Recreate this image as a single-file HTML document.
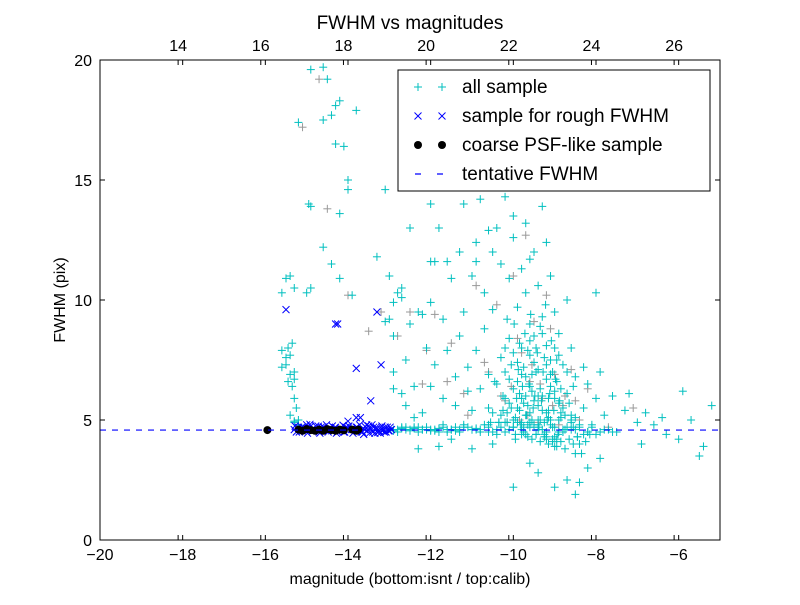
<!DOCTYPE html>
<html><head><meta charset="utf-8"><style>
body{margin:0;background:#fff;font-family:"Liberation Sans",sans-serif;}
svg text{font-family:"Liberation Sans",sans-serif;}
</style></head><body>
<svg id="chart" width="800" height="600" xmlns="http://www.w3.org/2000/svg"></svg>
<script>
const bottomTicks=[-20,-18,-16,-14,-12,-10,-8,-6];
const topTicks=[14,16,18,20,22,24,26];
const yTicks=[0,5,10,15,20];
const tentativeFWHM=4.58;
const topOffset=32.11;
const allX=[-15.6,-15.5,-15.4,-15.3,-15.6,-15.5,-15.4,-15.35,-15.45,-15.5,-15.4,-15.3,-15.45,-15.35,-15.3,-15.6,-15.3,-15.25,-15.2,-15.3,-15.2,-15.4,-15.3,
-14.9,-14.6,-14.5,-15.2,-14.6,-14.4,-14.3,-14.2,-14.3,-14.1,-13.8,-14.0,-14.0,-14.95,-14.9,-14.2,-14.6,-14.4,-14.2,-14.9,-15.0,-13.9,-13.3,-13.0,-13.1,-12.7,
-13.0,-12.9,-12.8,-12.6,-12.5,-12.4,-12.7,-12.3,-12.2,-12.5,-12.9,-12.1,-12.0,-12.2,-12.4,-12.0,-11.9,-12.0,-11.8,-11.7,-11.6,-11.9,-11.5,-11.4,-11.3,-11.2,-11.2,-11.3,-11.1,-11.0,-11.1,-10.9,-10.8,-10.7,-10.7,-10.6,-10.5,-10.5,-10.4,-10.3,-10.3,-10.2,-10.2,-10.1,-10.1,-10.0,-10.0,-9.9,-9.9,-9.9,-9.8,-9.8,-9.8,-9.7,-9.7,-9.7,-9.6,-9.6,-9.6,-9.5,-9.5,-9.5,-9.4,-9.4,-9.4,-9.3,-9.3,-9.3,-9.2,-9.2,-9.2,-9.1,-9.1,-9.1,-9.0,-9.0,-9.0,-8.9,-8.9,-8.8,-8.8,-8.7,-8.7,-8.6,-8.6,-8.5,-8.5,-8.4,-8.3,-8.3,-8.2,-8.1,-8.0,-8.0,-7.9,-7.9,-7.8,-7.6,-7.5,-7.3,-7.2,-7.0,-6.9,-6.8,-6.6,-6.4,-6.3,-6.0,-5.9,-5.7,-5.5,-5.4,-5.2,-10.0,-9.4,-9.0,-8.7,-8.5,-8.4,-8.2,-11.0,-12.3,-9.6,-10.5,-11.5,-11.8,
-10.4,-10.2,-10.0,-9.85,-9.75,-9.65,-9.55,-9.45,-9.35,-9.25,-9.15,-9.05,-8.95,-8.85,-9.7,-9.5,-9.3,-9.1,-9.6,-9.8,-10.1,-9.2,-9.0,-9.4,-8.9,-10.6,-10.8,-11.0,-10.9,-11.4,-11.7,-12.6,-12.9,-12.7,-12.9,-13.1,-12.0,-11.6,-10.9,-10.6,-10.0,-9.6,-9.2,
-12.9,-12.7,-12.5,-12.3,-12.1,-11.9,-11.7,-11.5,-11.3,-11.1,-10.9,-10.7,-10.5,-10.3,-10.1,-9.9,-9.7,-9.5,-9.3,-9.1,-8.9,-8.7,-8.5,-8.3,-8.1,-7.9,-7.7,-12.8,-12.4,-12.0,-11.6,-11.2,-10.8,-10.4,-10.0,-9.6,-9.2,-8.8,-8.4,-8.0,-7.6,-12.6,-12.2,-11.8,-11.4,-11.0,-10.6,-10.2,-9.8,-9.4,-9.0,-8.6,-8.2,-7.8,-9.75,-9.45,-9.15,-8.95,-10.35,-10.15,-9.65,-9.35,-9.05,-8.75,-8.45,-10.55,-10.25,-9.95,-9.55,-9.25,-8.85,-8.55,
-9.95,-9.9,-9.85,-9.8,-9.75,-9.7,-9.65,-9.6,-9.55,-9.5,-9.45,-9.4,-9.35,-9.3,-9.25,-9.2,-9.15,-9.1,-9.05,-9.0,-8.95,-8.9,-8.85,-8.8,-8.75,-8.7,-8.65,-8.6,-8.55,-8.5,
-10.3,-10.25,-10.2,-10.15,-10.1,-10.05,-10.0,-9.98,-9.92,-9.88,-9.82,-9.78,-9.72,-9.68,-9.62,-9.58,-9.52,-9.48,-9.42,-9.38,-9.32,-9.28,-9.22,-9.18,-9.12,-9.08,-9.02,-8.98,-8.92,-8.88,
-10.6,-10.5,-10.45,-10.35,-10.15,-10.05,-9.95,-9.85,-9.75,-9.65,-9.55,-9.45,-9.35,-9.25,-9.15,-9.05,-8.95,-8.85,-8.75,-8.65,-8.55,-8.45,-8.35,-8.25,-8.15,
-11.0,-10.8,-10.6,-10.4,-10.2,-10.0,-9.8,-9.6,-9.4,-9.2,-9.0,-8.8,-8.6,-8.4,-8.2,-12.8,-12.6,-12.4,-12.2,-12.0,-11.8,-11.6,-11.4,-11.2,-10.9,-12.9,-12.7,-12.5,-12.3,-12.1,-11.9,-11.7,-11.5,-11.3];
const allY=[10.3,10.9,11.0,10.5,7.9,7.6,7.7,8.2,8.0,7.3,6.9,7.0,6.6,6.4,6.7,7.2,5.9,5.5,5.0,4.9,4.8,5.2,4.95,
19.6,19.7,19.2,17.4,17.5,17.7,18.1,18.3,16.5,16.4,17.9,15.0,14.6,14.0,13.9,13.6,12.2,11.5,10.9,10.5,10.3,10.2,11.8,11.0,14.6,10.5,
9.2,8.5,10.3,7.5,9.0,6.4,6.1,9.5,9.4,13.0,7.0,8.0,6.4,5.3,5.1,11.6,11.6,14.0,13.0,9.2,7.9,7.3,10.9,6.8,12.0,14.0,9.5,8.5,6.2,11.0,7.2,12.4,14.2,10.3,8.8,6.9,9.6,12.0,13.0,7.6,11.5,14.3,5.9,8.4,10.9,6.3,12.6,7.4,9.7,5.5,11.3,8.0,6.9,13.2,10.3,5.2,7.7,9.0,6.4,12.0,8.5,5.8,10.6,7.1,6.0,13.9,9.3,5.4,8.1,6.7,4.2,11.0,7.5,5.0,9.5,6.2,3.9,8.6,5.7,7.3,4.5,10.0,6.1,8.0,5.2,3.6,6.8,4.0,7.2,5.5,6.5,4.8,5.9,10.3,7.0,3.4,5.2,6.0,4.5,5.4,6.1,4.9,4.0,5.3,4.8,5.1,4.4,4.2,6.2,5.0,3.5,3.9,5.6,2.2,2.8,2.2,2.5,1.9,2.4,3.0,3.8,3.8,3.2,4.0,4.2,3.9,
6.5,7.0,7.8,6.1,7.2,5.6,6.9,8.0,6.3,7.6,5.9,7.0,6.6,5.3,6.0,7.4,8.6,6.4,8.3,5.9,6.7,5.3,8.0,5.0,7.7,5.5,6.3,5.4,7.9,5.6,5.9,5.6,6.3,10.1,9.9,9.1,9.9,11.6,11.6,12.9,13.5,11.7,12.4,
4.6,4.7,4.6,4.5,4.7,4.6,4.8,4.6,4.5,4.7,4.6,4.8,4.5,4.7,4.6,4.9,4.4,4.7,4.6,4.8,4.5,4.7,4.6,4.4,4.7,4.5,4.6,4.5,4.7,4.6,4.5,4.8,4.6,4.4,4.7,4.9,4.3,4.6,4.8,4.4,4.5,4.6,4.6,4.5,4.7,4.6,4.5,4.9,4.4,4.8,4.3,5.0,4.5,4.6,4.7,4.4,5.1,4.2,4.9,5.3,4.8,5.0,4.1,5.2,4.3,4.9,5.4,4.2,5.0,4.4,5.1,4.7,
5.1,6.6,8.2,4.9,5.7,6.8,7.9,5.3,6.2,4.8,7.0,5.6,8.9,6.0,4.9,7.3,5.4,6.9,4.7,5.9,7.5,5.0,6.3,5.5,4.6,7.0,5.7,4.9,6.4,5.1,
5.2,6.0,8.0,4.9,5.7,7.3,5.0,9.0,5.9,7.1,4.8,6.4,8.6,5.2,6.5,9.4,5.5,6.0,7.8,4.7,5.8,7.0,9.8,5.0,6.1,8.3,5.4,6.7,4.4,5.8,
4.8,5.3,6.6,4.9,9.2,5.5,4.4,5.4,4.5,4.3,4.2,4.4,4.1,4.3,4.0,4.2,3.9,4.1,3.8,4.2,4.0,4.3,3.6,4.1,4.4,
4.6,4.5,4.7,4.6,4.5,4.7,4.6,4.7,4.6,4.5,4.7,4.5,4.6,4.7,4.5,4.6,4.7,4.65,4.6,4.55,4.65,4.6,4.55,4.7,4.65,4.55,4.65,4.55,4.7,4.6,4.55,4.7,4.6,4.6];
const grayX=[-15.1,-14.7,-14.5,-14.0,-13.5,-13.2,-12.8,-12.5,-12.2,-11.9,-11.5,-11.2,-10.9,-10.6,-10.4,-10.2,-10.0,-9.8,-9.6,-9.5,-9.3,-9.1,-9.0,-8.8,-8.6,-8.4,-8.2,-9.7,-9.4,-9.9,-10.3,-10.7,-11.1,-11.6,-12.1,-9.2,-8.9,-8.5,-9.55,-10.05,-7.7,-7.1,-9.65,-9.35,-9.05,-9.85,-10.15,-8.75];
const grayY=[17.2,19.2,13.8,10.2,8.7,9.5,8.5,9.5,6.5,9.4,8.2,6.1,10.6,7.0,9.8,5.8,11.0,7.8,6.6,9.1,5.9,8.8,6.9,5.6,7.1,5.0,6.3,12.7,4.9,8.4,6.0,7.4,5.2,6.6,7.9,10.2,4.8,5.8,7.3,6.4,4.7,5.5,5.2,6.5,5.6,5.0,4.9,6.0];
const roughX=[-15.5,-14.3,-14.25,-13.3,-13.2,-13.8,-13.45,-13.8,-13.7,-14.0,-15.0,-15.3,-15.2,-15.1,-15.0,-14.9,-14.8,-14.7,-14.6,-14.5,-14.4,-14.3,-14.2,-14.1,-14.0,-13.9,-13.8,-13.7,-13.6,-13.5,-13.4,-13.3,-13.2,-13.1,-13.0,-12.95,-15.25,-15.05,-14.85,-14.65,-14.45,-14.25,-14.05,-13.85,-13.65,-13.45,-13.25,-13.05,-13.55,-13.35,-13.15,
-15.28,-15.18,-15.08,-14.98,-14.88,-14.78,-14.68,-14.58,-14.48,-14.38,-14.28,-14.18,-14.08,-13.98,-13.88,-13.78,-13.68,-13.58,-13.48,-13.38,-13.28,-13.18,-13.08,-12.98,-13.62,-13.42,-13.22,-13.02,-13.52,-13.32,-13.12,-13.72,-13.92,-14.12,-14.32,-14.52,-14.72,-14.92,-15.12];
const roughY=[9.6,9.0,9.0,9.5,7.3,7.15,5.8,5.1,5.1,4.95,4.8,4.6,4.7,4.55,4.65,4.75,4.6,4.5,4.7,4.6,4.55,4.7,4.6,4.5,4.65,4.6,4.7,4.55,4.6,4.75,4.5,4.65,4.6,4.7,4.55,4.6,4.5,4.65,4.55,4.7,4.6,4.5,4.7,4.6,4.5,4.65,4.55,4.7,4.8,4.45,4.6,
4.75,4.5,4.7,4.45,4.6,4.75,4.45,4.7,4.5,4.75,4.45,4.65,4.5,4.75,4.45,4.7,4.5,4.72,4.45,4.7,4.48,4.75,4.5,4.7,4.4,4.8,4.45,4.55,4.6,4.7,4.5,4.8,4.62,4.78,4.68,4.8,4.74,4.82,4.7];
const psfX=[-15.95,-15.2,-15.1,-15.0,-14.9,-14.8,-14.7,-14.6,-14.5,-14.4,-14.3,-14.2,-14.1,-13.9,-13.8,-13.75];
const psfY=[4.58,4.6,4.55,4.62,4.58,4.55,4.6,4.55,4.62,4.58,4.55,4.6,4.57,4.6,4.55,4.6];

const svg=document.getElementById('chart');
const NS='http://www.w3.org/2000/svg';
const L=100,R=720,T=60,B=540;
const xs=v=>L+(v+20)/15*(R-L);
const xt=v=>xs(v-topOffset);
const ys=v=>B-v/20*(B-T);
function mk(tag,attrs,parent){const e=document.createElementNS(NS,tag);for(const k in attrs)e.setAttribute(k,attrs[k]);(parent||svg).appendChild(e);return e;}

const clip=mk('clipPath',{id:'pc'});mk('rect',{x:L,y:T,width:R-L,height:B-T},clip);
const gData=mk('g',{'clip-path':'url(#pc)'});



function plus(x,y,col,name){const g=mk('g',{stroke:col,'stroke-width':1},gData);


const cx=xs(x),cy=ys(y);mk('line',{x1:cx-4,y1:cy,x2:cx+4,y2:cy},g);mk('line',{x1:cx,y1:cy-4,x2:cx,y2:cy+4},g);}
grayX.forEach((x,i)=>plus(x,grayY[i],'#999','gray-sample-point'));
allX.forEach((x,i)=>plus(x,allY[i],'#00bfbf','all-sample-point'));
roughX.forEach((x,i)=>{const g=mk('g',{stroke:'#0000ff','stroke-width':1},gData);


const cx=xs(x),cy=ys(roughY[i]);mk('line',{x1:cx-3.5,y1:cy-3.5,x2:cx+3.5,y2:cy+3.5},g);mk('line',{x1:cx-3.5,y1:cy+3.5,x2:cx+3.5,y2:cy-3.5},g);});
psfX.forEach((x,i)=>{const c=mk('circle',{cx:xs(x),cy:ys(psfY[i]),r:4,fill:'#000'},gData);

});
const dl=mk('line',{x1:L,x2:R,y1:ys(tentativeFWHM),y2:ys(tentativeFWHM),stroke:'#0000ff','stroke-width':1.2,'stroke-dasharray':'6,6'},gData);



const fr=mk('rect',{x:L,y:T,width:R-L,height:B-T,fill:'none',stroke:'#000','stroke-width':1});



bottomTicks.forEach(v=>{const x=xs(v);mk('line',{x1:x,x2:x,y1:B,y2:B-5,stroke:'#000'});mk('line',{x1:x,x2:x,y1:T,y2:T+5,stroke:'#000'});
const t=mk('text',{x:x,y:B+20,'text-anchor':'middle','font-size':16});t.textContent=(v<0?'\u2212'+(-v):v);

});
topTicks.forEach(v=>{const x=xt(v);mk('line',{x1:x,x2:x,y1:T,y2:T+5,stroke:'#000'});mk('line',{x1:x,x2:x,y1:B,y2:B-5,stroke:'#000'});
const t=mk('text',{x:x,y:T-9,'text-anchor':'middle','font-size':16});t.textContent=v;

});
yTicks.forEach(v=>{const y=ys(v);mk('line',{x1:L,x2:L+5,y1:y,y2:y,stroke:'#000'});mk('line',{x1:R,x2:R-5,y1:y,y2:y,stroke:'#000'});
const t=mk('text',{x:L-8,y:y+6,'text-anchor':'end','font-size':16});t.textContent=v;

});

let t=mk('text',{x:410,y:29,'text-anchor':'middle','font-size':19});t.textContent='FWHM vs magnitudes';


t=mk('text',{x:410,y:584,'text-anchor':'middle','font-size':16});t.textContent='magnitude (bottom:isnt / top:calib)';


t=mk('text',{x:65,y:300,'text-anchor':'middle','font-size':16,transform:'rotate(-90 65 300)'});t.textContent='FWHM (pix)';



const lg=mk('g',{});


mk('rect',{x:398,y:70,width:312,height:121,fill:'#fff',stroke:'#000'},lg);
const ent=['all sample','sample for rough FWHM','coarse PSF-like sample','tentative FWHM'];
ent.forEach((s,i)=>{const y=87+i*29;const g=mk('g',{},lg);


if(i==0){[418,442].forEach(x=>{mk('line',{x1:x-4,x2:x+4,y1:y,y2:y,stroke:'#00bfbf'},g);mk('line',{x1:x,x2:x,y1:y-4,y2:y+4,stroke:'#00bfbf'},g);});}
if(i==1){[418,442].forEach(x=>{mk('line',{x1:x-3.5,x2:x+3.5,y1:y-3.5,y2:y+3.5,stroke:'#00f'},g);mk('line',{x1:x-3.5,x2:x+3.5,y1:y+3.5,y2:y-3.5,stroke:'#00f'},g);});}
if(i==2){[418,442].forEach(x=>mk('circle',{cx:x,cy:y,r:4,fill:'#000'},g));}
if(i==3){mk('line',{x1:410,x2:450,y1:y,y2:y,stroke:'#00f','stroke-width':1.2,'stroke-dasharray':'6,16','stroke-dashoffset':-5},g);}
const tx=mk('text',{x:462,y:y+6,'font-size':19},g);tx.textContent=s;});
</script>
</body></html>
